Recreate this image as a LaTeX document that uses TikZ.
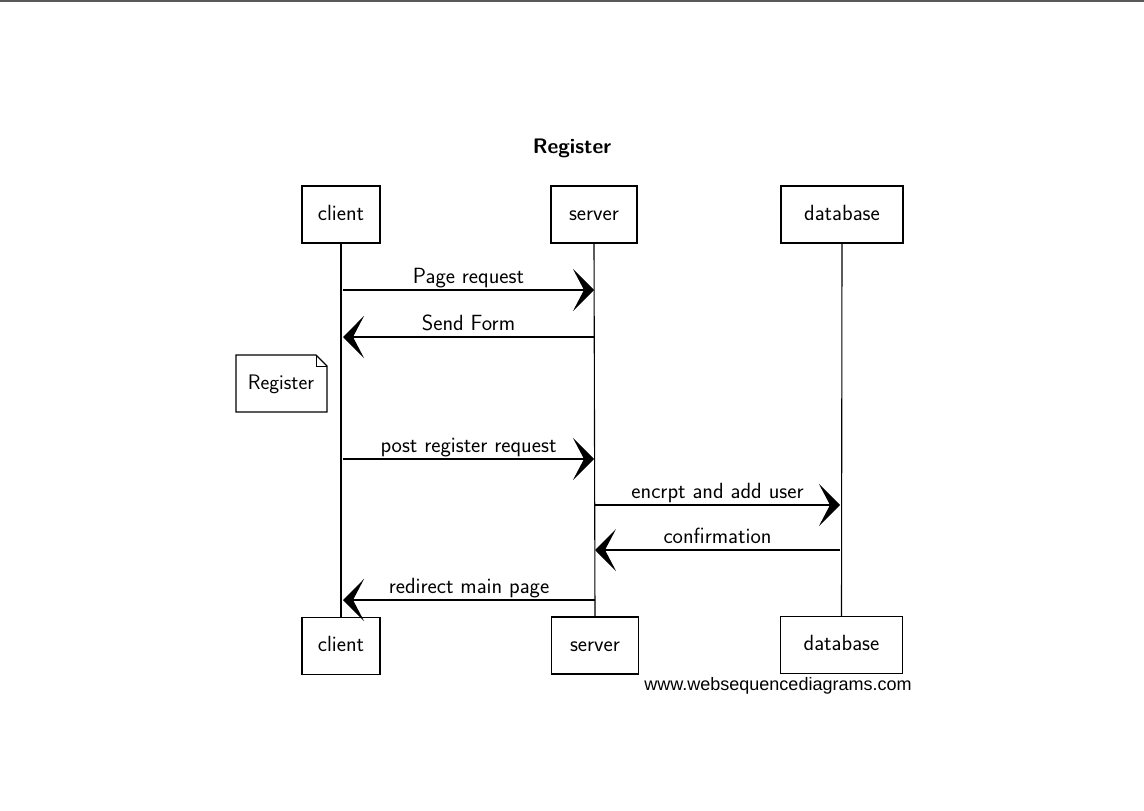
\documentclass[tikz,border=0pt]{standalone}
\usepackage{fontspec}
\newfontfamily\wsdfont{Liberation Sans}
\usetikzlibrary{arrows.meta}
\tikzset{
  actor/.style={draw, line width=1.1pt, minimum height=57pt, inner sep=0pt,
    text height=14pt, text depth=3pt, font=\sffamily\fontsize{22}{24}\selectfont},
  msg/.style={line width=1.1pt, -{Stealth[length=21pt,width=42pt,inset=11pt]}},
  lbl/.style={font=\sffamily\fontsize{22}{24}\selectfont, midway, anchor=base, yshift=7pt}
}

\begin{document}
\begin{tikzpicture}[x=1pt,y=-1pt]
		%%%%% START %%%%%
		\useasboundingbox (0,0) rectangle (1144,811);
		\draw[line width=1.5pt, color=black!65] (0,0.75) -- (1144,0.75);
		
		\node[font=\sffamily\bfseries\fontsize{21}{24}\selectfont] (title) at (572,148) {Register};
		
		%% participants
		\node[actor, minimum width=78pt] (clientT) at (341,214.5) {client};
		\node[actor, minimum width=86pt] (serverT) at (594,214.5) {server};
		\node[actor, minimum width=122pt] (dbT) at (842,214.5) {database};
		\node[actor, minimum width=78pt] (clientB) at (341,646) {client};
		\node[actor, minimum width=87pt] (serverB) at (595,645.5) {server};
		\node[actor, minimum width=122pt] (dbB) at (841.5,645) {database};
		
		%% lifelines
		\draw[line width=1.1pt] (clientT.south) -- (clientB.north);
		\draw[line width=1.1pt] (serverT.south) -- (serverB.north);
		\draw[line width=1.1pt] (dbT.south) -- (dbB.north);
		
		\coordinate (c1) at (343,290); \coordinate (s1) at (594,290);
		\coordinate (c2) at (343,337); \coordinate (s2) at (594,337);
		\coordinate (c4) at (343,459); \coordinate (s4) at (594,459);
		\coordinate (s5) at (595,505); \coordinate (d5) at (840,505);
		\coordinate (s6) at (595,550); \coordinate (d6) at (840,550);
		\coordinate (c7) at (343,600); \coordinate (s7) at (595,600);
		
		%% messages
		\draw[msg] (c1) -- (s1) node[lbl] {Page request};
		\draw[msg] (s2) -- (c2) node[lbl] {Send Form};
		\draw[msg] (c4) -- (s4) node[lbl] {post register request};
		\draw[msg] (s5) -- (d5) node[lbl] {encrpt and add user};
		\draw[msg] (d6) -- (s6) node[lbl] {confirmation};
		\draw[msg] (s7) -- (c7) node[lbl] {redirect main page};
		
		%% note
		\node[font=\sffamily\fontsize{21}{24}\selectfont] (note) at (281,384) {Register};
		\draw[line width=1.1pt] (236,355) -- (316,355) -- (327,366) -- (327,412) -- (236,412) -- cycle;
		\draw[line width=0.8pt] (316,355) -- (316,366) -- (327,366);
		
		\node[font=\wsdfont\fontsize{18}{20}\selectfont] (credit) at (778,686) {www.websequencediagrams.com};
		%%%%% END %%%%%
\end{tikzpicture}
\end{document}
